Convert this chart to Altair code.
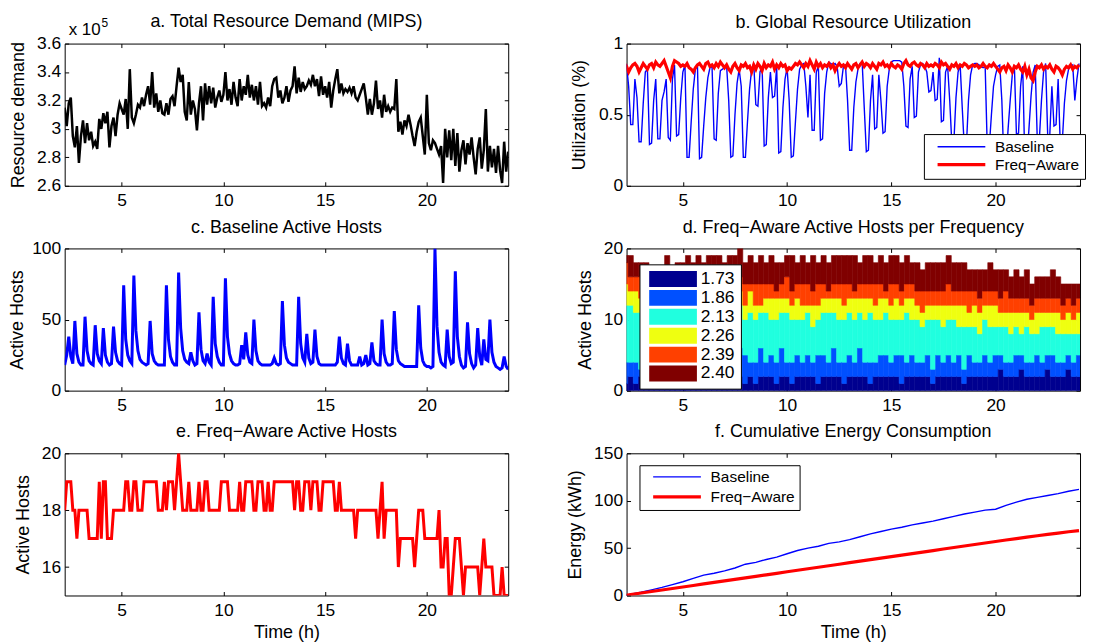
import altair as alt
import pandas as pd

FONT = "Liberation Sans"
BLUE = "#0000FF"
RED = "#FF0000"
SER = ["Baseline", "Freq\u2212Aware"]

# ---------------- data ----------------
# dense series sampled every 0.1 h, from 2.2 h to 24.0 h
T0, DT = 2.2, 0.1

# a. total resource demand, in units of 1e5 MIPS
demand = [
    3.15, 3.02, 3.18, 3.22, 2.95, 2.87, 3.02, 2.76,
    2.95, 3.06, 2.9, 3.04, 2.92, 2.98, 2.88, 2.91, 2.86, 3.07,
    3.0, 3.11, 3.04, 3.12, 2.87, 3.02, 3.08, 2.95, 3.1, 3.18,
    3.14, 3.1, 3.21, 3.0, 3.42, 3.08, 3.04, 3.1, 3.17, 3.15,
    3.22, 3.16, 3.24, 3.3, 3.17, 3.4, 3.15, 3.25, 3.12, 3.2,
    3.11, 3.1, 3.18, 3.1, 3.21, 3.23, 3.16, 3.3, 3.43, 3.33,
    3.38, 3.12, 3.06, 3.33, 3.1, 3.2, 3.14, 2.99, 3.18, 3.3,
    3.06, 3.32, 3.17, 3.3, 3.18, 3.29, 3.15, 3.22, 3.27, 3.19,
    3.24, 3.4, 3.2, 3.28, 3.17, 3.33, 3.22, 3.16, 3.35, 3.2,
    3.3, 3.24, 3.38, 3.22, 3.31, 3.2, 3.3, 3.17, 3.33, 3.16,
    3.18, 3.15, 3.22, 3.16, 3.3, 3.35, 3.36, 3.22, 3.27, 3.18,
    3.22, 3.3, 3.19, 3.27, 3.3, 3.44, 3.25, 3.36, 3.26, 3.33,
    3.28, 3.3, 3.34, 3.31, 3.38, 3.3, 3.35, 3.23, 3.37, 3.24,
    3.3, 3.22, 3.33, 3.15, 3.27, 3.35, 3.42, 3.25, 3.32, 3.25,
    3.28, 3.26, 3.29, 3.25, 3.3, 3.22, 3.2, 3.24, 3.28, 3.32,
    3.22, 3.1, 3.21, 3.1, 3.18, 3.34, 3.14, 3.2, 3.08, 3.24,
    3.12, 3.16, 3.12, 3.15, 3.14, 3.35, 2.98, 3.05, 2.96, 3.06,
    3.02, 3.1, 3.03, 2.95, 2.88, 2.98, 3.05, 3.08, 2.95, 2.82,
    3.24, 2.9, 2.85, 2.92, 2.9, 2.86, 2.82, 2.88, 2.62, 3.0,
    2.8, 2.99, 2.78, 3.0, 2.74, 2.97, 2.7, 2.85, 2.92, 2.75,
    2.9, 2.82, 2.94, 2.8, 2.68, 2.86, 2.94, 2.72, 2.85, 3.14,
    2.7, 2.88, 2.73, 2.86, 2.69, 2.88, 2.71, 2.62, 2.91, 2.7,
    2.84,
]

# b. global utilization
util_base = [
    .86, .85, .70, .43, .43, .75, .62, .31,
    .31, .58, .80, .82, .29, .30, .60, .75, .33, .33,
    .60, .66, .75, .34, .32, .75, .85, .35, .36, .62,
    .80, .85, .20, .20, .45, .68, .82, .85, .19, .20,
    .42, .62, .76, .83, .84, .33, .32, .65, .81, .82,
    .83, .84, .60, .20, .21, .50, .72, .82, .70, .20,
    .20, .45, .68, .82, .86, .57, .56, .80, .84, .28,
    .29, .62, .80, .62, .63, .84, .23, .24, .55, .75,
    .83, .60, .20, .21, .45, .68, .82, .85, .86, .70,
    .48, .78, .39, .39, .80, .84, .32, .33, .65, .80,
    .87, .86, .85, .86, .84, .70, .72, .84, .85, .60,
    .25, .25, .55, .73, .82, .86, .87, .55, .24, .25,
    .60, .78, .40, .41, .78, .60, .37, .38, .70, .82,
    .87, .88, .88, .88, .88, .87, .70, .42, .41, .75,
    .84, .48, .49, .80, .85, .86, .84, .80, .66, .67,
    .80, .60, .61, .90, .45, .46, .80, .84, .60, .30,
    .31, .62, .80, .85, .55, .27, .28, .60, .78, .85,
    .86, .86, .85, .84, .83, .84, .27, .28, .50, .70,
    .78, .84, .85, .60, .16, .17, .40, .60, .78, .85,
    .36, .37, .70, .84, .18, .19, .40, .63, .80, .85,
    .32, .33, .60, .80, .86, .35, .36, .70, .42, .43,
    .75, .30, .31, .58, .74, .82, .84, .85, .60, .75,
    .86,
]
util_freq = [
    .86, .84, .80, .83, .85, .86, .84, .80,
    .83, .86, .84, .82, .85, .86, .83, .87, .85, .84,
    .86, .88, .84, .80, .76, .84, .88, .87, .86, .84,
    .85, .84, .86, .83, .82, .80, .83, .85, .86, .84,
    .82, .86, .87, .84, .85, .83, .86, .84, .87, .85,
    .83, .85, .82, .80, .84, .86, .83, .81, .85, .84,
    .86, .83, .84, .80, .85, .82, .86, .84, .81, .86,
    .83, .85, .84, .87, .82, .85, .83, .86, .84, .85,
    .81, .83, .82, .84, .86, .85, .87, .85, .83, .86,
    .84, .88, .85, .82, .87, .84, .86, .83, .85, .84,
    .86, .83, .85, .81, .84, .86, .84, .85, .83, .86,
    .84, .82, .85, .86, .83, .85, .87, .84, .86, .85,
    .83, .86, .84, .82, .86, .85, .87, .84, .85, .83,
    .86, .84, .83, .85, .84, .82, .86, .88, .85, .84,
    .86, .87, .85, .84, .86, .85, .83, .86, .84, .85,
    .84, .86, .85, .83, .87, .85, .86, .84, .82, .85,
    .84, .86, .83, .85, .84, .86, .85, .83, .84, .85,
    .84, .85, .83, .84, .86, .84, .83, .85, .84, .86,
    .84, .82, .80, .83, .84, .81, .85, .83, .80, .84,
    .83, .85, .82, .80, .84, .78, .82, .76, .74, .80,
    .84, .83, .85, .82, .84, .83, .85, .82, .80, .84,
    .83, .81, .78, .82, .84, .83, .85, .82, .84, .83,
    .85,
]

# c. baseline active hosts
hosts_base = [
    18, 25, 38, 24, 19, 49, 26, 20,
    18, 18, 52, 28, 21, 19, 18, 46, 26, 21,
    19, 44, 25, 20, 18, 19, 45, 27, 21, 19,
    18, 74, 36, 25, 21, 19, 81, 42, 28, 22,
    20, 19, 18, 19, 49, 26, 21, 19, 18, 18,
    18, 18, 74, 36, 24, 20, 18, 18, 83, 44,
    28, 22, 20, 19, 27, 21, 18, 19, 55, 29,
    21, 19, 26, 20, 18, 66, 33, 24, 20, 18,
    18, 79, 38, 26, 21, 19, 18, 18, 19, 32,
    22, 41, 25, 20, 19, 50, 28, 21, 19, 18,
    18, 18, 18, 18, 19, 23, 19, 18, 19, 63,
    32, 23, 20, 19, 18, 18, 18, 66, 33, 23,
    20, 40, 23, 19, 20, 43, 24, 19, 18, 18,
    18, 18, 18, 18, 18, 18, 20, 38, 23, 19,
    18, 33, 21, 18, 18, 18, 18, 24, 18, 19,
    25, 18, 19, 34, 21, 19, 18, 18, 50, 26,
    20, 18, 18, 19, 56, 29, 21, 19, 18, 17,
    17, 17, 17, 17, 17, 17, 60, 30, 21, 18,
    17, 17, 16, 17, 100, 45, 27, 20, 18, 17,
    43, 24, 19, 20, 84, 38, 24, 18, 16, 17,
    48, 26, 19, 16, 18, 44, 24, 18, 36, 22,
    21, 50, 27, 20, 17, 16, 15, 16, 24, 17,
    15,
]

# e. freq-aware active hosts
hosts_freq = [
    18, 19, 19, 19, 18, 18, 17, 18,
    18, 18, 18, 18, 17, 17, 17, 17, 17, 19,
    17, 19, 19, 17, 17, 17, 18, 18, 18, 18,
    18, 18, 19, 19, 18, 18, 19, 19, 18, 18,
    18, 19, 19, 19, 19, 19, 19, 19, 18, 18,
    18, 19, 18, 19, 19, 19, 18, 19, 20, 19,
    18, 18, 18, 19, 18, 18, 18, 18, 19, 18,
    18, 19, 19, 18, 18, 18, 18, 18, 18, 19,
    19, 19, 19, 18, 18, 18, 18, 18, 19, 18,
    18, 19, 19, 19, 19, 18, 18, 19, 19, 19,
    18, 18, 19, 18, 18, 19, 19, 19, 19, 19,
    19, 19, 19, 19, 19, 18, 19, 19, 18, 18,
    19, 19, 19, 18, 19, 19, 19, 18, 18, 19,
    19, 19, 19, 19, 19, 18, 18, 19, 18, 18,
    18, 18, 18, 18, 18, 17, 18, 18, 18, 18,
    18, 18, 18, 18, 18, 18, 17, 18, 19, 17,
    18, 18, 18, 18, 18, 18, 16, 17, 17, 17,
    17, 17, 17, 17, 16, 17, 18, 18, 18, 17,
    17, 17, 17, 17, 17, 17, 18, 16, 16, 17,
    17, 15, 15, 16, 17, 17, 17, 16, 15, 16,
    16, 16, 16, 16, 16, 16, 15, 16, 17, 16,
    16, 16, 16, 15, 15, 15, 15, 16, 15, 15,
    15,
]

# d. freq-aware hosts per frequency, bars every 0.25 h (2.25 h ... 24.0 h)
BAR_T0, BAR_DT = 2.25, 0.25
freq_labels = ["1.73", "1.86", "2.13", "2.26", "2.39", "2.40"]
freq_colors = ["#00008F", "#0050FF", "#20FFDF", "#EFFF10", "#FF4000", "#800000"]
freq_counts = [
    (1, 3, 8, 3, 3, 1), (2, 2, 8, 2, 2, 3), (1, 3, 7, 3, 2, 2), (2, 1, 8, 2, 3, 2),
    (2, 2, 8, 1, 2, 3), (1, 3, 6, 2, 3, 2), (2, 2, 7, 2, 1, 3), (2, 1, 7, 3, 2, 2),
    (2, 3, 7, 2, 2, 3), (1, 2, 8, 2, 2, 2), (2, 2, 6, 3, 2, 3), (1, 3, 7, 2, 3, 2),
    (2, 2, 8, 2, 1, 4), (2, 3, 6, 2, 2, 3), (2, 2, 7, 3, 2, 3), (2, 2, 6, 2, 3, 3),
    (1, 3, 7, 2, 2, 4), (2, 2, 7, 3, 2, 3), (2, 3, 6, 2, 2, 4), (2, 2, 7, 2, 2, 3),
    (2, 3, 6, 3, 2, 3), (2, 5, 4, 3, 2, 3), (2, 4, 6, 2, 2, 4), (1, 4, 5, 2, 3, 3),
    (2, 2, 7, 3, 1, 4), (1, 3, 6, 2, 3, 3), (2, 4, 5, 1, 3, 4), (2, 2, 7, 2, 2, 3),
    (2, 3, 5, 3, 2, 4), (1, 3, 6, 3, 1, 4), (2, 4, 5, 2, 2, 3), (2, 2, 7, 2, 3, 3),
    (1, 3, 6, 2, 2, 5), (2, 3, 5, 3, 2, 3), (2, 2, 6, 2, 3, 4), (2, 3, 6, 1, 3, 3),
    (2, 2, 5, 3, 2, 5), (1, 4, 5, 2, 3, 3), (2, 3, 6, 2, 2, 4), (2, 2, 7, 2, 1, 4),
    (2, 4, 5, 2, 2, 4), (2, 2, 6, 3, 2, 4), (1, 3, 6, 2, 3, 4), (2, 3, 6, 2, 2, 4),
    (2, 2, 6, 3, 1, 5), (2, 4, 5, 2, 2, 3), (2, 2, 6, 3, 2, 4), (1, 3, 7, 2, 2, 4),
    (2, 2, 6, 2, 3, 3), (2, 3, 5, 3, 2, 4), (2, 3, 6, 2, 1, 4), (2, 2, 6, 2, 3, 4),
    (2, 3, 5, 3, 2, 4), (1, 4, 5, 2, 2, 4), (2, 2, 7, 2, 2, 4), (2, 3, 5, 3, 2, 3),
    (2, 2, 6, 2, 2, 4), (2, 2, 5, 2, 3, 3), (2, 3, 5, 2, 2, 4), (1, 2, 7, 2, 2, 4),
    (2, 3, 5, 2, 2, 4), (2, 2, 5, 3, 2, 4), (2, 3, 5, 2, 3, 4), (2, 2, 6, 2, 2, 4),
    (2, 3, 4, 3, 2, 4), (1, 2, 6, 3, 2, 4), (2, 3, 4, 2, 3, 3), (2, 2, 5, 3, 2, 3),
    (2, 2, 4, 3, 2, 4), (2, 3, 5, 2, 2, 3), (2, 2, 5, 3, 2, 4), (2, 3, 4, 3, 2, 3),
    (3, 2, 4, 2, 2, 4), (2, 2, 5, 2, 3, 3), (2, 2, 4, 3, 2, 3), (2, 3, 4, 2, 2, 4),
    (3, 2, 3, 3, 2, 3), (2, 2, 5, 2, 2, 4), (2, 2, 4, 2, 2, 3), (2, 3, 3, 3, 2, 3),
    (2, 2, 5, 2, 2, 3), (3, 2, 4, 2, 2, 3), (2, 3, 4, 2, 2, 4), (2, 2, 4, 3, 2, 3),
    (2, 2, 4, 2, 2, 3), (3, 2, 3, 3, 2, 2), (2, 2, 4, 2, 2, 3), (2, 3, 3, 3, 2, 2),
]

# f. cumulative energy (kWh)
energy_t = [2.2, 2.5, 3.0, 3.5, 4.0, 4.5, 5.0, 5.5, 6.0, 6.5, 7.0, 7.5, 8.0, 8.5,
            9.0, 9.5, 10.0, 10.5, 11.0, 11.5, 12.0, 12.5, 13.0, 13.5, 14.0, 14.5,
            15.0, 15.5, 16.0, 16.5, 17.0, 17.5, 18.0, 18.5, 19.0, 19.5, 20.0, 20.5,
            21.0, 21.5, 22.0, 22.5, 23.0, 23.5, 24.0]
energy_base = [0, 1.5, 3.5, 6, 8.5, 11.5, 14.5, 18, 21.5, 23.5, 26, 29, 33, 35,
               38, 40.5, 44, 47.5, 50, 52, 55, 56.5, 59, 62, 65, 67.5, 70, 72,
               74.5, 76.5, 78.5, 81, 83.5, 86, 88, 90, 91, 95, 98.5, 101.5,
               103.5, 105.5, 107.5, 110, 112]
energy_freq = [0, 1, 2.6, 4.2, 5.8, 7.4, 9, 10.6, 12.2, 13.8, 15.4, 17, 18.6, 20.2,
               21.8, 23.4, 25, 26.6, 28.2, 29.8, 31.4, 33, 34.6, 36.2, 37.8, 39.4,
               41, 42.6, 44.2, 45.8, 47.4, 49, 50.6, 52.2, 53.8, 55.4, 57, 58.5,
               60, 61.5, 63, 64.4, 65.8, 67.2, 68.5]

X_TICKS = [5, 10, 15, 20]


def times(n, start=T0, step=DT):
    return [round(start + step * i, 3) for i in range(n)]


# ---------------- helpers ----------------
WL, WR, H = 446, 456, 143
XL_DOM, XR_DOM = [2.2, 24.0], [2.3, 24.05]
YFMT = ".3~r"


def xax(title=None):
    return alt.Axis(values=X_TICKS, format="d", title=title, titlePadding=5)


def yax(title, values, tp):
    return alt.Axis(title=title, values=values, format=YFMT, titlePadding=tp)


def xs(dom):
    return alt.Scale(domain=dom, nice=False, zero=False)


def ys(dom):
    return alt.Scale(domain=dom, nice=False, zero=False)


def ttl(text, offset=3):
    return alt.TitleParams(text=text, fontSize=18, font=FONT, fontWeight="normal",
                           color="black", anchor="middle", frame="group", offset=offset)


def ghost(xdom, ydom, yvalues):
    """Invisible layer that only carries the top / right tick marks of the box."""
    g = pd.DataFrame({"gx": [xdom[0]], "gy": [ydom[0]]})
    return alt.Chart(g).mark_point(opacity=0, clip=True).encode(
        x=alt.X("gx:Q", scale=xs(xdom),
                axis=alt.Axis(orient="top", values=X_TICKS, labels=False, title=None,
                              minExtent=0, maxExtent=0)),
        y=alt.Y("gy:Q", scale=ys(ydom),
                axis=alt.Axis(orient="right", values=yvalues, labels=False, title=None,
                              minExtent=0, maxExtent=0)),
    )


def boxed(*layers):
    return alt.layer(*layers).resolve_axis(x="independent", y="independent")


def line_legend(x, y, pad, rowpad):
    u1 = (6 - pad) / 3.0
    return alt.Legend(orient="none", legendX=x, legendY=y, title=None,
                      fillColor="white", strokeColor="black", padding=pad,
                      rowPadding=rowpad, labelFont=FONT, labelFontSize=15.5,
                      labelColor="black", labelLimit=300,
                      symbolType="M%.3f,0H%.3f" % (u1, u1 + 16), symbolSize=36,
                      labelOffset=56 - pad)


# ---------------- a ----------------
ya_dom, ya_ticks = [2.6, 3.6], [2.6, 2.8, 3.0, 3.2, 3.4, 3.6]
df_a = pd.DataFrame({"t": times(len(demand)), "v": demand})
a_line = alt.Chart(df_a).mark_line(color="black", strokeWidth=2.5, clip=True).encode(
    x=alt.X("t:Q", scale=xs(XL_DOM), axis=xax()),
    y=alt.Y("v:Q", scale=ys(ya_dom), axis=yax("Resource demand", ya_ticks, 15)),
)
a_exp = alt.Chart(pd.DataFrame({"s": ["x 10"]})).mark_text(
    align="left", baseline="alphabetic", font=FONT, fontSize=17, color="black"
).encode(x=alt.value(4), y=alt.value(-9), text="s:N")
a_sup = alt.Chart(pd.DataFrame({"s": ["5"]})).mark_text(
    align="left", baseline="alphabetic", font=FONT, fontSize=12, color="black"
).encode(x=alt.value(37), y=alt.value(-17), text="s:N")
panel_a = boxed(a_line, ghost(XL_DOM, ya_dom, ya_ticks), a_exp, a_sup).properties(
    width=WL, height=H, title=ttl("a. Total Resource Demand (MIPS)", offset=-14))

# ---------------- b ----------------
yb_dom, yb_ticks = [0, 1], [0, 0.5, 1]
nb = len(util_base)
df_b = pd.DataFrame({
    "t": times(nb) + times(len(util_freq)),
    "v": util_base + util_freq,
    "series": [SER[0]] * nb + [SER[1]] * len(util_freq),
})
leg_b = line_legend(299, 91, 5, 1)
b_main = alt.Chart(df_b).mark_line(clip=True).encode(
    x=alt.X("t:Q", scale=xs(XR_DOM), axis=xax()),
    y=alt.Y("v:Q", scale=ys(yb_dom), axis=yax("Utilization (%)", yb_ticks, 16)),
    color=alt.Color("series:N", scale=alt.Scale(domain=SER, range=[BLUE, RED]), legend=leg_b),
    strokeWidth=alt.StrokeWidth("series:O", scale=alt.Scale(domain=SER, range=[1.4, 3.2]),
                                legend=leg_b),
)
panel_b = boxed(b_main, ghost(XR_DOM, yb_dom, yb_ticks)).properties(
    width=WR, height=H, title=ttl("b. Global Resource Utilization"))

# ---------------- c ----------------
yc_dom, yc_ticks = [0, 100], [0, 50, 100]
df_c = pd.DataFrame({"t": times(len(hosts_base)), "v": hosts_base})
c_main = alt.Chart(df_c).mark_line(color=BLUE, strokeWidth=3, clip=True).encode(
    x=alt.X("t:Q", scale=xs(XL_DOM), axis=xax()),
    y=alt.Y("v:Q", scale=ys(yc_dom), axis=yax("Active Hosts", yc_ticks, 16)),
)
panel_c = boxed(c_main, ghost(XL_DOM, yc_dom, yc_ticks)).properties(
    width=WL, height=H, title=ttl("c. Baseline Active Hosts"))

# ---------------- d ----------------
yd_dom, yd_ticks = [0, 20], [0, 10, 20]
rows = []
for i, cnts in enumerate(freq_counts):
    tc = BAR_T0 + BAR_DT * i
    base = 0
    for k, n in enumerate(cnts):
        rows.append({"t0": tc - BAR_DT / 2, "t1": tc + BAR_DT / 2,
                     "freq": freq_labels[k], "k": k, "y0": base, "y1": base + n})
        base += n
df_d = pd.DataFrame(rows)
fscale = alt.Scale(domain=freq_labels, range=freq_colors)
leg_d = alt.Legend(orient="none", legendX=13, legendY=16, title=None,
                   fillColor="white", strokeColor="black", padding=6, rowPadding=0,
                   labelFont=FONT, labelFontSize=17.5, labelColor="black",
                   symbolType="M-0.625,-1H5.375V1H-0.625Z", symbolSize=256,
                   symbolStrokeWidth=0, symbolOpacity=1, labelOffset=38)
d_main = alt.Chart(df_d).mark_rect(clip=True, strokeWidth=0.6, opacity=1).encode(
    x=alt.X("t0:Q", scale=xs(XR_DOM), axis=xax()),
    x2="t1:Q",
    y=alt.Y("y0:Q", scale=ys(yd_dom), axis=yax("Active Hosts", yd_ticks, 10)),
    y2="y1:Q",
    color=alt.Color("freq:N", scale=fscale, legend=leg_d),
    stroke=alt.Stroke("freq:N", scale=fscale, legend=None),
)
panel_d = boxed(d_main, ghost(XR_DOM, yd_dom, yd_ticks)).properties(
    width=WR, height=H, title=ttl("d. Freq\u2212Aware Active Hosts per Frequency"))

# ---------------- e ----------------
ye_dom, ye_ticks = [15, 20], [16, 18, 20]
df_e = pd.DataFrame({"t": times(len(hosts_freq)), "v": hosts_freq})
e_main = alt.Chart(df_e).mark_line(color=RED, strokeWidth=3, clip=True).encode(
    x=alt.X("t:Q", scale=xs(XL_DOM), axis=xax("Time (h)")),
    y=alt.Y("v:Q", scale=ys(ye_dom), axis=yax("Active Hosts", ye_ticks, 10)),
)
panel_e = boxed(e_main, ghost(XL_DOM, ye_dom, ye_ticks)).properties(
    width=WL, height=H, title=ttl("e. Freq\u2212Aware Active Hosts"))

# ---------------- f ----------------
yf_dom, yf_ticks = [0, 150], [0, 50, 100, 150]
df_f = pd.DataFrame({
    "t": energy_t + energy_t,
    "v": energy_base + energy_freq,
    "series": [SER[0]] * len(energy_base) + [SER[1]] * len(energy_freq),
})
leg_f = line_legend(13, 12, 4, 3)
f_main = alt.Chart(df_f).mark_line(clip=True).encode(
    x=alt.X("t:Q", scale=xs(XR_DOM), axis=xax("Time (h)")),
    y=alt.Y("v:Q", scale=ys(yf_dom), axis=yax("Energy (kWh)", yf_ticks, 20)),
    color=alt.Color("series:N", scale=alt.Scale(domain=SER, range=[BLUE, RED]), legend=leg_f),
    strokeWidth=alt.StrokeWidth("series:O", scale=alt.Scale(domain=SER, range=[1.4, 3.2]),
                                legend=leg_f),
)
panel_f = boxed(f_main, ghost(XR_DOM, yf_dom, yf_ticks)).properties(
    width=WR, height=H, title=ttl("f. Cumulative Energy Consumption"))

chart = alt.concat(
    panel_a, panel_b, panel_c, panel_d, panel_e, panel_f,
    columns=2, spacing={"row": 63, "column": 119}, bounds="flush", align="each",
).resolve_scale(
    color="independent", strokeWidth="independent", stroke="independent",
).resolve_legend(
    color="independent", strokeWidth="independent", stroke="independent",
).properties(
    padding={"left": 0, "top": 2, "right": 0, "bottom": 0}
).configure_view(
    stroke="black", strokeWidth=1
).configure_axis(
    labelFont=FONT, labelFontSize=17.5, labelColor="black",
    titleFont=FONT, titleFontSize=18, titleFontWeight="normal", titleColor="black",
    ticks=True, tickSize=4, tickColor="black", tickWidth=1, offset=-4,
    domain=False, grid=False,
).configure_axisY(
    minExtent=26, maxExtent=26, labelPadding=4,
).configure_axisX(
    labelPadding=6,
)

chart.save("out.html", embed_options={"renderer": "svg", "actions": False})
